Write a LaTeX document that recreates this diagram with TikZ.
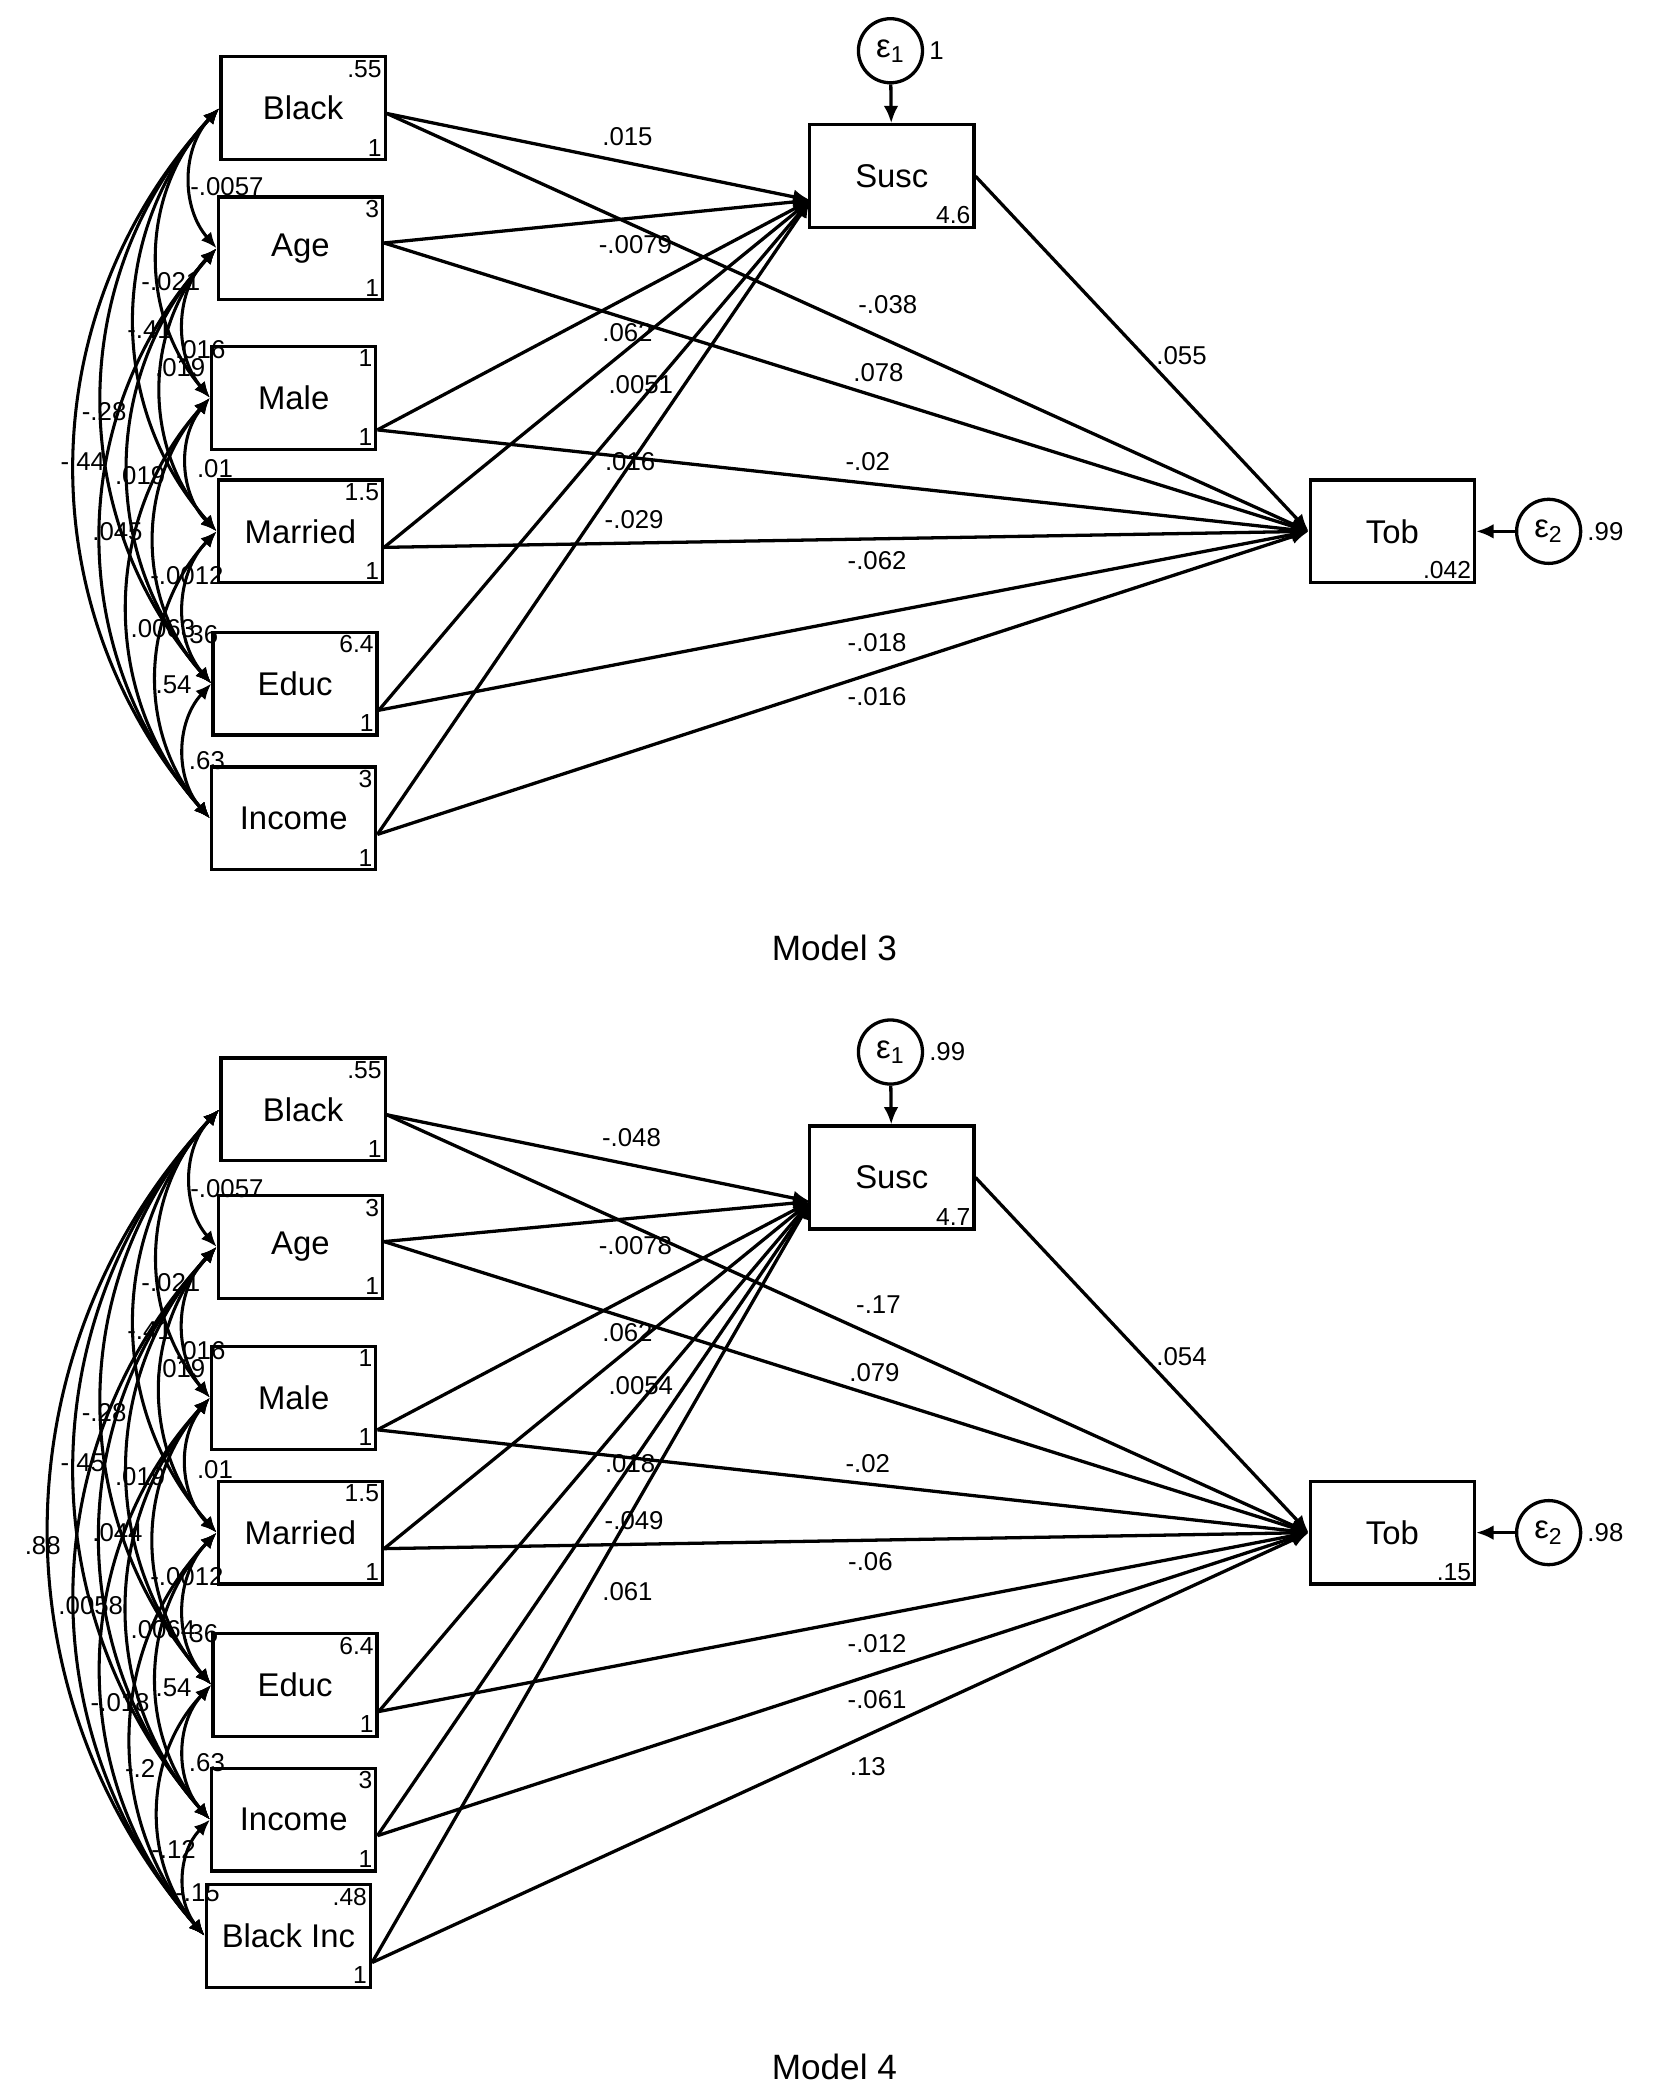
\documentclass[tikz,border=0pt]{standalone}
\usepackage{fontspec}
\setmainfont{Liberation Sans}
\usetikzlibrary{arrows.meta}
\begin{document}
\begin{tikzpicture}[x=0.02cm,y=-0.02cm,
  box/.style={draw,line width=1.4pt,minimum width=2.46cm,minimum height=1.54cm,font=\fontsize{14}{16}\selectfont},
  tr/.style={anchor=north east,inner sep=2pt,font=\fontsize{10.5}{12}\selectfont},
  br/.style={anchor=south east,inner sep=2pt,font=\fontsize{10.5}{12}\selectfont},
  err/.style={draw,circle,line width=1.4pt,minimum size=0.96cm,inner sep=0pt,font=\fontsize{14}{16}\selectfont},
  lab/.style={font=\fontsize{11}{13}\selectfont,inner sep=0pt},
  pth/.style={line width=1.4pt,-{Latex[length=2.6mm,width=2.2mm]}},
  cov/.style={line width=1.3pt,{Latex[length=2.4mm,width=2mm]}-{Latex[length=2.4mm,width=2mm]},bend right=42},
  ttl/.style={font=\fontsize{15}{18}\selectfont}]
\useasboundingbox (0,0) rectangle (1240,1573);

% ================= Model 3 =================
\node[box] (B3) at (227,81) {Black}; \node[tr] at (B3.north east) {.55}; \node[br] at (B3.south east) {1};
\node[box] (A3) at (225,186) {Age}; \node[tr] at (A3.north east) {3}; \node[br] at (A3.south east) {1};
\node[box] (M3) at (220,298) {Male}; \node[tr] at (M3.north east) {1}; \node[br] at (M3.south east) {1};
\node[box] (R3) at (225,398) {Married}; \node[tr] at (R3.north east) {1.5}; \node[br] at (R3.south east) {1};
\node[box] (E3) at (221,512) {Educ}; \node[tr] at (E3.north east) {6.4}; \node[br] at (E3.south east) {1};
\node[box] (I3) at (220,613) {Income}; \node[tr] at (I3.north east) {3}; \node[br] at (I3.south east) {1};
\node[box] (S3) at (668,132) {Susc}; \node[br] at (S3.south east) {4.6};
\node[box] (T3) at (1043,398) {Tob}; \node[br] at (T3.south east) {.042};
\node[err] (e13) at (667,38) {ε\textsubscript{1}}; \node[lab,anchor=west] at ([xshift=2pt]e13.east) {1};
\node[err] (e23) at (1160,398) {ε\textsubscript{2}}; \node[lab,anchor=west] at ([xshift=2pt]e23.east) {.99};
\coordinate (s3) at (607,150);
\draw[pth] (e13) -- (S3);
\draw[pth] (e23) -- (T3);
\foreach \n/\d in {B3/4,A3/-4,M3/24,R3/12,E3/20,I3/12}{\draw[pth] ([yshift=-\d*0.02cm]\n.east) -- (s3); \draw[pth] ([yshift=-\d*0.02cm]\n.east) -- (T3.west);}
\draw[pth] (S3.east) -- (T3.west);
\foreach \a/\b in {B3/A3,B3/M3,B3/R3,B3/E3,B3/I3,A3/M3,A3/R3,A3/E3,A3/I3,M3/R3,M3/E3,M3/I3,R3/E3,R3/I3,E3/I3}
  \draw[cov] (\a.west) to (\b.west);
\foreach \t/\x/\y in {.015/470/102,-.0079/476/183,-.038/665/228,.062/470/249,.055/885/266,.078/658/279,.0051/480/288,.016/472/346,-.02/650/346,-.029/475/389,-.062/657/420,-.018/657/481,-.016/657/522,
 -.0057/170/140,-.021/128/211,-.41/112/247,.016/150/262,.019/135/275,-.28/78/308,-.44/62/346,.019/105/356,.01/161/351,.045/88/398,-.0012/140/431,.0063/122/471,.36/150/475,.54/130/513,.63/155/570}
  \node[lab] at (\x,\y) {\t};
\node[ttl] at (625,710) {Model 3};

% ================= Model 4 =================
\node[box] (B4) at (227,831) {Black}; \node[tr] at (B4.north east) {.55}; \node[br] at (B4.south east) {1};
\node[box] (A4) at (225,934) {Age}; \node[tr] at (A4.north east) {3}; \node[br] at (A4.south east) {1};
\node[box] (M4) at (220,1047) {Male}; \node[tr] at (M4.north east) {1}; \node[br] at (M4.south east) {1};
\node[box] (R4) at (225,1148) {Married}; \node[tr] at (R4.north east) {1.5}; \node[br] at (R4.south east) {1};
\node[box] (E4) at (221,1262) {Educ}; \node[tr] at (E4.north east) {6.4}; \node[br] at (E4.south east) {1};
\node[box] (I4) at (220,1363) {Income}; \node[tr] at (I4.north east) {3}; \node[br] at (I4.south east) {1};
\node[box] (K4) at (216,1450) {Black Inc}; \node[tr] at (K4.north east) {.48}; \node[br] at (K4.south east) {1};
\node[box] (S4) at (668,882) {Susc}; \node[br] at (S4.south east) {4.7};
\node[box] (T4) at (1043,1148) {Tob}; \node[br] at (T4.south east) {.15};
\node[err] (e14) at (667,788) {ε\textsubscript{1}}; \node[lab,anchor=west] at ([xshift=2pt]e14.east) {.99};
\node[err] (e24) at (1160,1148) {ε\textsubscript{2}}; \node[lab,anchor=west] at ([xshift=2pt]e24.east) {.98};
\coordinate (s4) at (607,900);
\draw[pth] (e14) -- (S4);
\draw[pth] (e24) -- (T4);
\foreach \n/\d in {B4/4,A4/-4,M4/24,R4/12,E4/20,I4/12,K4/20}{\draw[pth] ([yshift=-\d*0.02cm]\n.east) -- (s4); \draw[pth] ([yshift=-\d*0.02cm]\n.east) -- (T4.west);}
\draw[pth] (S4.east) -- (T4.west);
\foreach \a/\b in {B4/A4,B4/M4,B4/R4,B4/E4,B4/I4,B4/K4,A4/M4,A4/R4,A4/E4,A4/I4,A4/K4,M4/R4,M4/E4,M4/I4,M4/K4,R4/E4,R4/I4,R4/K4,E4/I4,E4/K4,I4/K4}
  \draw[cov] (\a.west) to (\b.west);
\foreach \t/\x/\y in {-.048/473/852,-.0078/476/933,-.17/658/977,.062/470/998,.054/885/1016,.079/655/1028,.0054/480/1038,.018/472/1096,-.02/650/1096,-.049/475/1139,-.06/652/1170,-.012/657/1231,-.061/657/1273,.13/650/1323,.061/470/1192,
 -.0057/170/890,-.021/128/961,-.41/112/997,.016/150/1012,.019/135/1025,-.28/78/1058,-.45/62/1096,.019/105/1106,.01/161/1101,.044/88/1148,.88/32/1158,-.0012/140/1181,.0058/68/1203,.0064/122/1221,.36/150/1224,.54/130/1264,-.018/90/1275,.63/155/1320,-.2/105/1325,-.12/130/1385,-.15/148/1418}
  \node[lab] at (\x,\y) {\t};
\node[ttl] at (625,1548) {Model 4};
\end{tikzpicture}
\end{document}
